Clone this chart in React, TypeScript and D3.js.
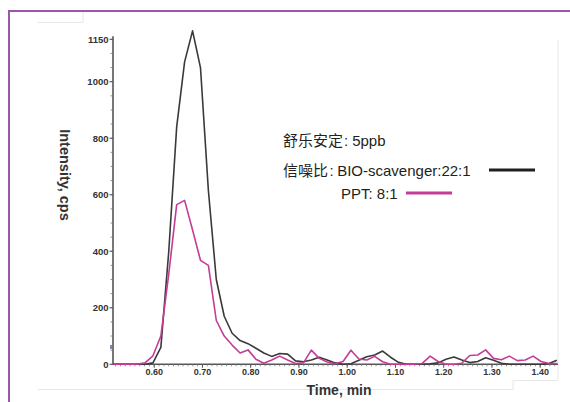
import React from "react";
import * as d3 from "d3";

const times = [
  0.5153, 0.5317, 0.5481, 0.5645, 0.5809, 0.5974, 0.6138, 0.6302, 0.6466, 0.663,
  0.6795, 0.6959, 0.7123, 0.7287, 0.7451, 0.7615, 0.778, 0.7944, 0.8108, 0.8272,
  0.8436, 0.86, 0.8765, 0.8929, 0.9093, 0.9257, 0.9421, 0.9585, 0.9749, 0.9914,
  1.0078, 1.0242, 1.0406, 1.057, 1.0734, 1.0899, 1.1063, 1.1227, 1.1391, 1.1555,
  1.1719, 1.1884, 1.2048, 1.2212, 1.2376, 1.254, 1.2704, 1.2869, 1.3033, 1.3197,
  1.3361, 1.3525, 1.3689, 1.3854, 1.4018, 1.4182, 1.4346,
];

const bioScavenger = [
  0, 0, 0, 0, 0, 5, 60, 400, 840, 1070,
  1180, 1050, 615, 300, 170, 110, 84, 73, 57, 40,
  28, 38, 36, 12, 9, 15, 25, 15, 5, 0,
  2, 14, 27, 33, 47, 25, 7, 0, 0, 0,
  2, 5, 18, 26, 15, 6, 10, 23, 14, 4,
  0, 0, 0, 0, 0, 3, 14,
];

const ppt = [
  0, 0, 0, 0, 5, 30, 100, 320, 565, 580,
  475, 368, 350, 155, 100, 68, 40, 51, 18, 4,
  15, 29, 15, 3, 5, 50, 21, 8, 2, 10,
  50, 19, 15, 28, 9, 0, 0, 0, 0, 3,
  29, 10, 0, 0, 4, 31, 33, 51, 21, 16,
  29, 13, 15, 29, 10, 3, 3,
];

const yTickValues = [0, 200, 400, 600, 800, 1000, 1150];
const xTickValues = [0.6, 0.7, 0.8, 0.9, 1.0, 1.1, 1.2, 1.3, 1.4];

const titleLabel = ["舒乐安定", "5ppb"];
const seriesPrefix = "信噪比";
const seriesLabels = ["BIO-scavenger:22:1", "PPT: 8:1"];
const xTitle = "Time, min";
const yTitle = "Intensity, cps";

const BLACK = "#3a3a3a";
const MAGENTA = "#c43c98";

export default function App() {
  const x = d3.scaleLinear().domain([0.5146, 1.4369]).range([113, 558]);
  const y = d3.scaleLinear().domain([0, 1000]).range([364.3, 81.7]);
  const yTop = 1161;

  const line = (vals: number[]) =>
    d3
      .line<number>()
      .x((_, i) => x(times[i]))
      .y((v) => y(v))(vals) as string;

  const yMinor = d3.range(0, 1151, 50);
  const xMinor = d3.range(52, 144, 1).map((v) => v / 100);

  const labelFont = "'Liberation Sans', Arial, Helvetica, sans-serif";
  const legendFont = "'Liberation Sans', Arial, 'Noto Sans CJK SC', sans-serif";

  return (
    <svg
      width={570}
      height={402}
      style={{ position: "absolute", left: 0, top: 0, background: "#fff" }}
    >
      <rect x={0} y={0} width={570} height={402} fill="#fff" />
      {/* faint frame artifacts */}
      <g stroke="#e6e6e6" strokeWidth={1} fill="none">
        <line x1={38} y1={22.5} x2={83} y2={22.5} />
        <line x1={83} y1={12} x2={83} y2={22.5} />
        <polyline points="38,389.5 513,389.5 513,380.5 558,380.5" />
        <line x1={558} y1={40} x2={558} y2={380} />
      </g>
      {/* purple border */}
      <line x1={8} y1={11} x2={570} y2={11} stroke="#9a58a8" strokeWidth={2} />
      <line x1={9} y1={11} x2={9} y2={402} stroke="#9a58a8" strokeWidth={2} />

      {/* y axis */}
      <g>
        <line x1={113} y1={y(0)} x2={113} y2={y(yTop)} stroke="#555" strokeWidth={1.6} />
        {yMinor.map((v) => (
          <line key={"ym" + v} x1={110.5} x2={113} y1={y(v)} y2={y(v)} stroke="#777" strokeWidth={0.8} />
        ))}
        {yTickValues.map((v) => (
          <line key={"yt" + v} x1={109.5} x2={113} y1={y(v)} y2={y(v)} stroke="#555" strokeWidth={1} />
        ))}
        {yTickValues.map((v) => (
          <text
            key={"yl" + v}
            x={108.5}
            y={y(v)}
            dy="0.35em"
            textAnchor="end"
            fontFamily={labelFont}
            fontWeight="bold"
            fontSize={9.5}
            fill="#333"
          >
            {v}
          </text>
        ))}
        <rect x={110.3} y={345} width={1.4} height={4} fill="#3c5aa0" />
      </g>

      {/* x axis */}
      <g>
        <line x1={113} y1={y(0)} x2={558} y2={y(0)} stroke="#555" strokeWidth={1.6} />
        {xMinor.map((v) => (
          <line key={"xm" + v} x1={x(v)} x2={x(v)} y1={y(0)} y2={y(0) + 2} stroke="#777" strokeWidth={0.8} />
        ))}
        {xTickValues.map((v) => (
          <line key={"xt" + v} x1={x(v)} x2={x(v)} y1={y(0)} y2={y(0) + 3.5} stroke="#555" strokeWidth={1} />
        ))}
        {xTickValues.map((v) => (
          <text
            key={"xl" + v}
            x={x(v)}
            y={375}
            textAnchor="middle"
            fontFamily={labelFont}
            fontWeight="bold"
            fontSize={9}
            fill="#333"
          >
            {d3.format(".2f")(v)}
          </text>
        ))}
      </g>

      <text
        x={339}
        y={395}
        textAnchor="middle"
        fontFamily={labelFont}
        fontWeight="bold"
        fontSize={14}
        fill="#333"
      >
        {xTitle}
      </text>
      <text
        transform="translate(60,175) rotate(90)"
        textAnchor="middle"
        fontFamily={labelFont}
        fontWeight="bold"
        fontSize={14.5}
        fill="#333"
      >
        {yTitle}
      </text>

      {/* series */}
      <path d={line(bioScavenger)} fill="none" stroke={BLACK} strokeWidth={1.6} strokeLinejoin="round" />
      <path d={line(ppt)} fill="none" stroke={MAGENTA} strokeWidth={1.6} strokeLinejoin="round" />

      {/* legend */}
      <g fontFamily={legendFont} fontSize={15} fill="#231f20">
        <text x={283} y={146}>
          {titleLabel[0]}
          <tspan dx={1}>:</tspan>
          <tspan dx={4}>{titleLabel[1]}</tspan>
        </text>
        <text x={283} y={176}>
          {seriesPrefix}
          <tspan dx={1.5}>:</tspan>
          <tspan dx={3.5}>{seriesLabels[0]}</tspan>
        </text>
        <text x={341} y={199}>{seriesLabels[1]}</text>
      </g>
      <line x1={489} x2={535} y1={170} y2={170} stroke="#231f20" strokeWidth={3} />
      <line x1={406} x2={452} y1={193} y2={193} stroke={MAGENTA} strokeWidth={3} />
    </svg>
  );
}
